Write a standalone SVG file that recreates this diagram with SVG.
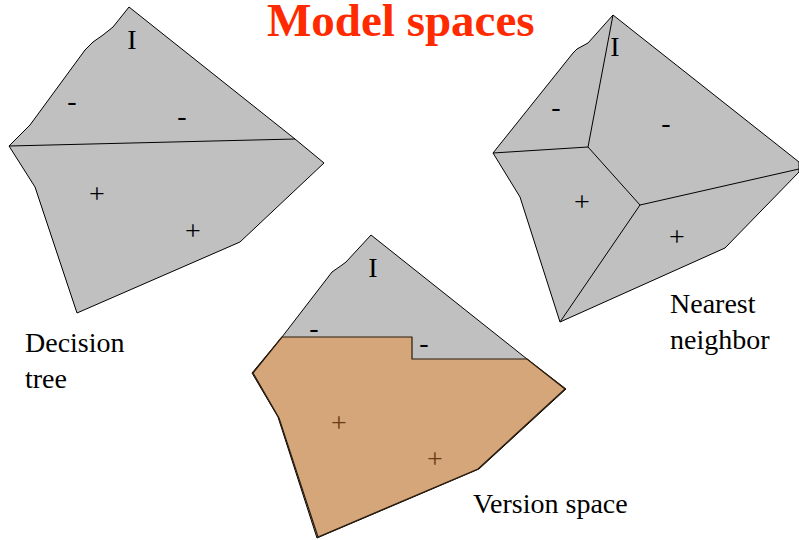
<svg xmlns="http://www.w3.org/2000/svg" width="799" height="540" viewBox="0 0 799 540">
<style>
.reg{fill:#bfc0bf;stroke:#000;stroke-width:1;stroke-linejoin:round}
.vs{fill:#d4a67a;stroke:#2a1a0a;stroke-width:1.2;stroke-linejoin:round}
.ln{fill:none;stroke:#000;stroke-width:1}
.lab{font-family:"Liberation Serif","Times New Roman",serif;font-size:28px;fill:#000}
.mk{font-family:"Liberation Serif","Times New Roman",serif;font-size:28px;fill:#000;text-anchor:middle}
.mkb{font-family:"Liberation Serif","Times New Roman",serif;font-size:28px;fill:#6b3a10;text-anchor:middle}
.title{font-family:"Liberation Serif","Times New Roman",serif;font-size:47px;font-weight:bold;fill:#ff2a00}
</style>
<rect width="799" height="540" fill="#fff"/>
<text class="title" x="267" y="36">Model spaces</text>
<g id="decision-tree">
<polygon class="reg" points="129,7 113,27 103,35 93,42 85,50 30,125 9,146 35,187 77,313 240,242 324,163 295,139"/>
<line class="ln" x1="9" y1="146" x2="295" y2="139"/>
<text class="mk" x="132" y="49">I</text>
<text class="mk" x="72" y="110">-</text>
<text class="mk" x="182" y="125">-</text>
<text class="mk" x="97" y="203">+</text>
<text class="mk" x="193" y="240">+</text>
<text class="lab" x="25" y="352">Decision</text>
<text class="lab" x="25" y="388">tree</text>
</g>
<g id="nearest-neighbor">
<polygon class="reg" points="613,15 588,43 577,49 573,53 493,153 520,197 560,322 725,248 799,172 799,162"/>
<line class="ln" x1="613" y1="15" x2="588" y2="147"/>
<line class="ln" x1="588" y1="147" x2="493" y2="153"/>
<line class="ln" x1="588" y1="147" x2="640" y2="205"/>
<line class="ln" x1="640" y1="205" x2="799" y2="169"/>
<line class="ln" x1="640" y1="205" x2="560" y2="322"/>
<text class="mk" x="615" y="56">I</text>
<text class="mk" x="556" y="116">-</text>
<text class="mk" x="666" y="132">-</text>
<text class="mk" x="582" y="211">+</text>
<text class="mk" x="677" y="246">+</text>
<text class="lab" x="670" y="313">Nearest</text>
<text class="lab" x="670" y="349">neighbor</text>
</g>
<g id="version-space">
<polygon class="reg" points="371,235 346,262 342,265 332,272 282,337 252,373 278,417 317,538 479,469 566,389 527,359"/>
<polygon class="vs" points="282,337 412,337 412,359 527,359 565,389 478,469 318,537 279,418 253,373"/>
<text class="mk" x="373" y="277">I</text>
<text class="mk" x="314" y="337">-</text>
<text class="mk" x="424" y="352">-</text>
<text class="mkb" x="339" y="432">+</text>
<text class="mkb" x="435" y="468">+</text>
<text class="lab" x="473" y="513">Version space</text>
</g>
<g id="connectors"></g>
</svg>
